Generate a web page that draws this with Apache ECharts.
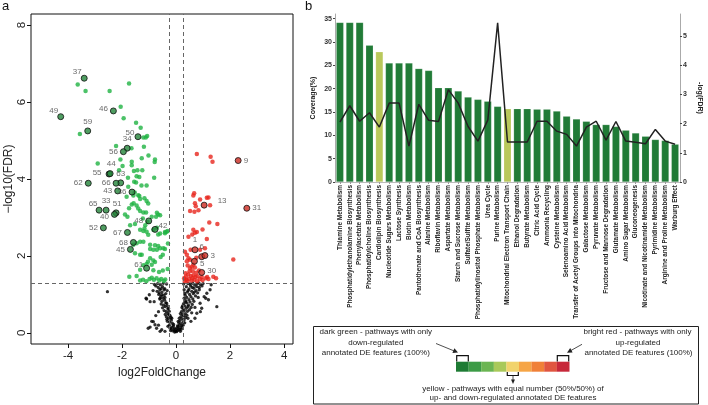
<!DOCTYPE html>
<html><head><meta charset="utf-8">
<script src="https://cdn.jsdelivr.net/npm/echarts@6/dist/echarts.min.js"></script>
<style>html,body{margin:0;padding:0;background:#fff}#c{width:708px;height:405px}</style>
</head><body><div id="c"></div>
<script>
// ---------- Panel a: volcano plot ----------
const volcanoXTicks = [-4, -2, 0, 2, 4];
const volcanoYTicks = [0, 2, 4, 6, 8];
const fcCutoff = 0.263;
const fdrCutoff = 1.301;

const volcanoNS = [
[-0.05,0.02],[-0.12,0.05],[-0.08,0.08],[-0.18,0.1],[-0.02,0.04],[-0.15,0.15],[-0.22,0.12],[-0.1,0.18],[-0.25,0.2],[-0.06,0.12],[-0.3,0.17],[-0.2,0.06],
[-0.14,0.25],[-0.24,0.28],[-0.32,0.3],[-0.18,0.33],[-0.28,0.38],[-0.36,0.42],[-0.22,0.45],[-0.4,0.48],[-0.3,0.5],[-0.19,0.4],[-0.34,0.35],[-0.26,0.47],
[-0.36,0.55],[-0.44,0.58],[-0.3,0.62],[-0.5,0.65],[-0.4,0.68],[-0.28,0.64],[-0.46,0.72],[-0.55,0.75],[-0.38,0.78],[-0.52,0.82],[-0.42,0.85],[-0.6,0.88],[-0.35,0.77],[-0.48,0.9],
[-0.56,0.95],[-0.45,0.98],[-0.64,1.0],[-0.38,1.02],[-0.52,1.06],[-0.7,1.08],[-0.6,1.12],[-0.42,1.15],[-0.66,1.18],[-0.5,1.2],[-0.75,1.22],[-0.58,1.25],[-0.35,1.27],[-0.68,1.28],[-0.47,1.29],[-0.8,1.26],[-0.62,1.04],[-0.33,1.1],
[-1.09,0.88],[-0.96,0.81],[-0.81,0.81],[-0.59,0.9],[-0.65,0.55],[-0.84,0.29],[-0.78,0.21],[-0.96,0.15],[-1.03,0.12],[-0.72,0.12],[-0.53,0.08],[-0.41,0.04],[-0.59,0.04],[-1.11,0.9],[-0.99,0.99],[-0.53,0.99],[-0.44,1.12],[-2.54,1.07],[-0.9,0.3],[-0.65,0.2],[-0.85,1.1],[-0.75,0.45],
[0.02,0.03],[0.06,0.06],[0.1,0.1],[0.04,0.12],[0.14,0.08],[0.08,0.16],[0.18,0.14],[0.12,0.2],[0.22,0.18],[0.0,0.08],[0.16,0.04],[0.2,0.1],[0.26,0.2],[0.05,0.18],
[0.1,0.26],[0.18,0.24],[0.26,0.28],[0.14,0.32],[0.3,0.34],[0.22,0.36],[0.36,0.4],[0.18,0.42],[0.28,0.44],[0.4,0.46],[0.24,0.48],[0.34,0.5],[0.44,0.38],[0.12,0.38],[0.32,0.26],
[0.2,0.55],[0.3,0.58],[0.42,0.56],[0.5,0.6],[0.26,0.62],[0.38,0.64],[0.56,0.66],[0.32,0.7],[0.46,0.72],[0.6,0.74],[0.28,0.76],[0.4,0.78],[0.52,0.8],[0.66,0.82],[0.36,0.84],[0.48,0.86],[0.62,0.88],[0.3,0.9],[0.44,0.68],[0.58,0.52],[0.24,0.7],[0.7,0.66],
[0.4,0.92],[0.55,0.94],[0.72,0.96],[0.34,0.98],[0.5,1.0],[0.64,1.02],[0.8,1.04],[0.42,1.06],[0.58,1.08],[0.74,1.1],[0.3,1.12],[0.48,1.14],[0.66,1.16],[0.86,1.18],[0.38,1.2],[0.54,1.22],[0.7,1.24],[0.9,1.26],[0.28,1.27],[0.44,1.28],[0.62,1.29],[0.78,1.28],[0.32,1.03],[0.6,1.18],[0.96,1.22],[0.82,0.92],
[1.51,0.68],[1.14,1.03],[1.26,1.12],[1.2,0.86],[0.89,0.77],[0.95,0.64],[0.77,0.51],[1.04,0.94],[1.1,0.9],[0.86,1.12],[0.77,1.2],[1.0,1.28],[1.3,1.25],[0.9,0.55],[0.7,0.38],[0.55,0.3],
[-0.09,0.22],[-0.16,0.38],[-0.25,0.56],[-0.33,0.71],[-0.41,0.92],[-0.55,1.15],[0.08,0.3],[0.16,0.5],[0.22,0.66],[0.35,0.8],[0.45,1.1],[0.52,1.27],[0.68,1.06],[0.84,1.3]
];

const volcanoDown = [
[-3.64,6.46],[-3.35,6.29],[-2.46,6.29],[-1.74,6.48],[-2.05,5.88],[-1.94,5.58],[-1.48,5.46],[-1.31,5.33],[-3.56,5.17],[-1.21,5.08],[-1.12,5.08],[-1.07,5.12],
[-2.22,4.86],[-1.19,4.84],[-1.65,4.80],[-2.06,4.51],[-1.02,4.61],[-1.27,4.54],[-0.78,4.51],[-0.79,4.44],[-2.90,4.40],[-1.98,4.34],[-1.64,4.45],[-1.64,4.36],
[-1.43,4.23],[-1.56,4.21],[-1.25,4.23],[-2.11,4.23],[-1.78,4.03],[-1.46,4.07],[-1.36,4.05],[-0.81,4.03],[-1.55,3.93],[-1.48,3.91],[-1.28,3.83],[-1.09,3.83],
[-1.77,3.80],[-1.53,3.65],[-1.36,3.56],[-1.17,3.50],[-1.40,3.58],[-1.33,3.48],[-1.09,3.43],[-1.03,3.36],[-1.83,3.54],[-1.58,3.57],[-1.46,3.31],[-1.40,3.23],
[-1.33,3.17],[-1.21,3.13],[-1.64,3.34],[-1.57,3.37],[-1.74,3.24],[-1.89,3.08],[-1.80,3.02],[-1.11,3.13],[-0.90,3.02],[-0.74,3.02],[-0.66,3.08],[-1.23,2.97],
[-1.06,2.88],[-1.14,2.80],[-1.17,2.71],[-1.70,2.80],[-1.52,2.83],[-0.66,2.56],[-0.59,2.58],[-0.41,2.62],[-0.31,2.65],[-0.84,2.68],[-0.71,2.73],[-1.33,2.68],
[-1.21,2.65],[-1.09,2.63],[-1.03,2.55],[-1.33,2.37],[-1.21,2.37],[-1.46,2.33],[-0.96,2.29],[-0.78,2.28],[-0.66,2.26],[-1.58,2.29],[-1.52,2.07],[-1.33,2.03],
[-1.27,2.03],[-0.96,2.18],[-0.84,2.16],[-0.71,2.16],[-0.59,2.20],[-0.47,2.20],[-0.41,2.18],[-0.49,2.03],[-0.96,1.94],[-0.84,1.88],[-0.78,1.84],[-1.09,1.79],
[-1.21,1.76],[-0.90,1.77],[-0.84,1.63],[-0.63,1.58],[-0.49,1.62],[-0.31,1.66],[-1.73,1.46],[-1.46,1.48],[-1.33,1.36],[-1.22,1.38],[-1.10,1.34],[-0.98,1.40],
[-0.90,1.43],[-0.82,1.38],[-0.72,1.42],[-0.62,1.36],[-0.55,1.40],[-0.45,1.35],[-0.40,1.39],[-1.33,1.64],[-1.04,1.85],[-0.57,1.97],[-0.30,2.32],[-0.41,2.59],
[-0.35,2.63],[-0.59,3.06],[-0.71,3.12]
];

const volcanoUp = [
[0.77,4.65],[1.28,4.58],[1.35,4.45],[0.67,3.63],[0.64,3.57],[0.89,3.47],[1.14,3.51],[0.70,3.37],[0.73,3.29],[0.83,3.19],[0.68,3.15],[0.52,3.17],
[1.26,3.32],[1.20,3.52],[1.23,2.87],[1.53,2.83],[0.64,2.68],[0.70,2.60],[0.77,2.62],[0.60,2.56],[0.98,2.69],[0.46,2.50],[1.14,2.44],[0.54,2.16],
[0.89,2.16],[1.07,2.20],[0.33,2.11],[0.40,2.03],[0.46,1.94],[0.52,1.90],[0.40,1.86],[0.64,1.77],[0.58,1.72],[0.52,1.68],[0.70,1.70],[2.12,1.91],
[0.35,1.55],[0.45,1.52],[0.55,1.48],[0.65,1.50],[0.75,1.56],[0.95,1.45],[1.10,1.42],[1.20,1.40],[1.15,1.45],[0.30,1.42],[0.38,1.38],[0.48,1.40],
[0.58,1.36],[0.68,1.38],[0.78,1.34],[0.88,1.40],[0.98,1.37],[0.42,1.34],[0.32,1.35],[1.38,1.46],[1.48,1.42],[0.62,1.60],[0.85,1.62],[0.43,1.75],
[0.75,1.95],[0.36,1.46],[0.80,1.47],[0.50,1.60],[0.60,1.42],[0.72,1.45]
];

const labeledDown = [
['37',-3.40,6.62],['49',-4.27,5.62],['46',-2.32,5.77],['59',-3.27,5.25],['50',-1.41,5.10],['34',-1.81,4.80],['56',-1.95,4.71],
['55',-2.48,4.13],['44',-2.44,4.14],['63',-2.05,3.90],['66',-2.22,3.89],['62',-3.25,3.89],['43',-2.16,3.69],['36',-1.63,3.66],
['65',-2.85,3.19],['33',-2.59,3.19],['51',-2.22,3.12],['40',-2.28,3.08],['48',-1.01,2.91],['42',-0.78,2.69],['52',-2.69,2.73],
['67',-1.80,2.61],['68',-1.58,2.35],['45',-1.69,2.17],['61',-1.09,1.68]
];
const labeledUp = [
['9',2.30,4.48],['13',1.04,3.32],['31',2.62,3.24],['1',0.70,2.16],['6',0.95,1.98],['3',1.07,2.01],['5',0.68,1.86],['30',0.95,1.57]
];

// ---------- Panel b: pathway enrichment ----------
const pathways = [
'Thiamine Metabolism','Phosphatidylethanolamine Biosynthesis','Phenylacetate Metabolism','Phosphatidylcholine Biosynthesis',
'Cardiolipin Biosynthesis','Nucleotide Sugars Metabolism','Lactose Synthesis','Biotin Metabolism','Pantothenate and CoA Biosynthesis',
'Alanine Metabolism','Riboflavin Metabolism','Aspartate Metabolism','Starch and Sucrose Metabolism','Sulfate/Sulfite Metabolism',
'Phosphatidylinositol Phosphate Metabolism','Urea Cycle','Purine Metabolism','Mitochondrial Electron Transport Chain',
'Ethanol Degradation','Butyrate Metabolism','Citric Acid Cycle','Ammonia Recycling','Cysteine Metabolism','Selenoamino Acid Metabolism',
'Transfer of Acetyl Groups into Mitochondria','Galactose Metabolism','Pyruvate Metabolism','Fructose and Mannose Degradation',
'Glutamate Metabolism','Amino Sugar Metabolism','Gluconeogenesis','Nicotinate and Nicotinamide Metabolism','Pyrimidine Metabolism',
'Arginine and Proline Metabolism','Warburg Effect'
];
const coverage = [34.2,34.2,34.2,29.3,27.9,25.5,25.5,25.5,24.3,23.9,20.2,20.2,19.5,18.2,17.7,17.3,16.2,15.7,
15.7,15.7,15.6,15.6,15.2,14.1,13.5,13.0,12.3,12.3,11.9,11.1,10.5,9.8,9.1,8.9,8.1];
const negLogFDR = [2.05,2.61,2.08,2.37,1.88,2.70,2.70,1.23,2.66,2.11,2.07,3.16,2.70,1.90,1.40,2.12,5.45,1.37,
1.37,1.37,2.08,2.08,1.74,1.63,1.23,1.88,2.08,1.43,2.07,1.40,1.36,1.31,1.80,1.40,1.29];
const regulation = ['down','down','down','down','equal','down','down','down','down','down','down','down','down','down','down','down','down','equal',
'down','down','down','down','down','down','down','down','down','down','down','down','down','down','down','down','down'];
const coverageTicks = [0,5,10,15,20,25,30,35];
const fdrTicks = [0,1,2,3,4,5];

// ---------- styles ----------
const FONT = 'Liberation Sans, Arial, sans-serif';
const regColor = {down:'#217b37', equal:'#b9c85b'};
const legendColors = ['#1e7b34','#3c9b46','#6bb552','#a9c95a','#f1d36c','#f6a546','#f08038','#e05540','#c7283a'];
const labelPlacement = {
 '37':['left',3,-6],'49':['left',3,-6],'46':['left',0,-2],'59':['top',0,0],'50':['left',2,-4],'34':['top',0,0],
 '56':['left',0,0],'55':['left',-2,-1],'44':['top',1,0],'63':['top',0,0],'66':['left',0,0],'62':['left',0,0],
 '43':['left',0,0],'36':['left',0,0],'65':['left',4,-6],'33':['top',0,0],'51':['top',1,0],'40':['left',0,2],
 '48':['left',0,0],'42':['right',-2,-4],'52':['left',0,0],'67':['left',0,0],'68':['left',0,0],'45':['left',0,0],'61':['left',2,-3],
 '9':['right',0,0],'13':['right',8,-4],'31':['right',0,0],'1':['top',0,0],'6':['top',0,0],'3':['right',0,0],'5':['right',0,2],'30':['right',0,-2]
};
function labeledItems(arr){
  return arr.map(([n,x,y])=>{
    const p = labelPlacement[n] || ['left',0,0];
    return {name:n, value:[x,y], label:{position:p[0], offset:[p[1],p[2]], distance:2}};
  });
}

const chart = echarts.init(document.getElementById('c'), null, {renderer:'canvas'});

const graphic = [
  {type:'text', left:2, top:0, style:{text:'a', font:'13px '+FONT, fill:'#111'}},
  {type:'text', left:305, top:0, style:{text:'b', font:'13px '+FONT, fill:'#111'}},
  {type:'rect', shape:{x:313.5, y:326.5, width:385, height:77.5}, style:{fill:'#fff', stroke:'#222', lineWidth:1}, z:10},
];
legendColors.forEach((c,i)=>{
  graphic.push({type:'rect', shape:{x:456+i*12.6, y:361.7, width:12.7, height:10}, style:{fill:c}, z:11});
});
const txt = (t,x,y,align)=>({type:'text', x:x, y:y, z:12, style:{text:t, font:'8px '+FONT, fill:'#222', align:align||'center', verticalAlign:'middle'}});
graphic.push(
  txt('dark green - pathways with only',375.8,331.5), txt('down-regulated',375.8,342.3), txt('annotated DE features (100%)',375.8,353),
  txt('bright red - pathways with only',637.5,331.5), txt('up-regulated',638,342.3), txt('annotated DE features (100%)',638.5,353),
  txt('yellow - pathways with equal number (50%/50%) of',513,388.5), txt('up- and down-regulated annotated DE features',513,397.5),
  {type:'polyline', z:12, shape:{points:[[456.7,361.5],[456.7,355.7],[468.3,355.7],[468.3,361.5]]}, style:{stroke:'#111', lineWidth:1.2, fill:null}},
  {type:'polyline', z:12, shape:{points:[[557.3,361.5],[557.3,355.7],[568.7,355.7],[568.7,361.5]]}, style:{stroke:'#111', lineWidth:1.2, fill:null}},
  {type:'polyline', z:12, shape:{points:[[507.3,372],[507.3,375.5],[518.3,375.5],[518.3,372]]}, style:{stroke:'#111', lineWidth:1.2, fill:null}},
  {type:'line', z:12, shape:{x1:436,y1:343.5,x2:455,y2:351.3}, style:{stroke:'#222', lineWidth:0.8}},
  {type:'polygon', z:12, shape:{points:[[458,352.5],[452.4,352.9],[454.4,348.3]]}, style:{fill:'#222'}},
  {type:'line', z:12, shape:{x1:582,y1:344.3,x2:569.5,y2:351.3}, style:{stroke:'#222', lineWidth:0.8}},
  {type:'polygon', z:12, shape:{points:[[567,352.7],[570.2,348.1],[572.6,352.5]]}, style:{fill:'#222'}},
  {type:'line', z:12, shape:{x1:513,y1:375.5,x2:513,y2:380}, style:{stroke:'#222', lineWidth:0.8}},
  {type:'polygon', z:12, shape:{points:[[513,384],[511,379.5],[515,379.5]]}, style:{fill:'#222'}}
);

const dash = {type:[4,3], color:'#666', width:1};

chart.setOption({
  animation:false,
  backgroundColor:'#fff',
  textStyle:{fontFamily:FONT},
  graphic: graphic,
  grid:[
    {left:31, top:14, width:262, height:330, show:true, borderColor:'#111', borderWidth:1, backgroundColor:'transparent'},
    {left:335, top:14, width:345, height:168}
  ],
  xAxis:[
    {type:'value', gridIndex:0, min:-5.37, max:4.33,
     axisLine:{show:false, onZero:false}, splitLine:{show:false},
     axisTick:{show:true, length:4, customValues:volcanoXTicks, lineStyle:{color:'#111'}},
     axisLabel:{customValues:volcanoXTicks, fontSize:11.5, color:'#222', margin:6, fontFamily:FONT},
     name:'log2FoldChange', nameLocation:'middle', nameGap:21, nameTextStyle:{fontSize:12, color:'#222', fontFamily:FONT}},
    {type:'category', gridIndex:1, data:pathways,
     axisLine:{show:true, lineStyle:{color:'#bbb', width:1}},
     axisTick:{show:true, alignWithLabel:true, length:2, lineStyle:{color:'#999'}},
     axisLabel:{interval:0, rotate:90, fontSize:6.4, fontWeight:'bold', color:'#222', margin:3, fontFamily:FONT}}
  ],
  yAxis:[
    {type:'value', gridIndex:0, min:-0.29, max:8.29,
     axisLine:{show:false, onZero:false}, splitLine:{show:false},
     axisTick:{show:true, length:4, customValues:volcanoYTicks, lineStyle:{color:'#111'}},
     axisLabel:{customValues:volcanoYTicks, rotate:90, fontSize:11.5, color:'#222', margin:3, fontFamily:FONT},
     name:'\u2212log10(FDR)', nameLocation:'middle', nameRotate:90, nameGap:16, nameTextStyle:{fontSize:12, color:'#222', fontFamily:FONT}},
    {type:'value', gridIndex:1, min:0, max:36,
     axisLine:{show:true, onZero:false, lineStyle:{color:'#aaa'}}, splitLine:{show:false},
     axisTick:{show:true, length:2, customValues:coverageTicks, lineStyle:{color:'#444'}},
     axisLabel:{customValues:coverageTicks, fontSize:7, fontWeight:'bold', color:'#333', margin:3, fontFamily:FONT},
     name:'Coverage(%)', nameLocation:'middle', nameRotate:90, nameGap:18, nameTextStyle:{fontSize:7, fontWeight:'bold', color:'#222'}},
    {type:'value', gridIndex:1, position:'right', min:0, max:5.75,
     axisLine:{show:true, onZero:false, lineStyle:{color:'#aaa'}}, splitLine:{show:false},
     axisTick:{show:true, length:2, customValues:fdrTicks, lineStyle:{color:'#444'}},
     axisLabel:{customValues:fdrTicks, fontSize:7, fontWeight:'bold', color:'#333', margin:3, fontFamily:FONT},
     name:'-log(FDR)', nameLocation:'middle', nameRotate:-90, nameGap:16, nameTextStyle:{fontSize:7, fontWeight:'bold', color:'#222'}}
  ],
  series:[
    {type:'scatter', xAxisIndex:0, yAxisIndex:0, data:volcanoNS, symbolSize:3.3, itemStyle:{color:'#000'}, z:2,
     markLine:{silent:true, symbol:'none', label:{show:false}, lineStyle:dash,
       data:[{xAxis:-fcCutoff},{xAxis:fcCutoff},{yAxis:fdrCutoff}]}},
    {type:'scatter', xAxisIndex:0, yAxisIndex:0, data:volcanoDown, symbolSize:4.5, itemStyle:{color:'#1fb342'}, z:3},
    {type:'scatter', xAxisIndex:0, yAxisIndex:0, data:volcanoUp, symbolSize:4.5, itemStyle:{color:'#e7261d'}, z:3},
    {type:'scatter', xAxisIndex:0, yAxisIndex:0, data:labeledItems(labeledDown), symbolSize:6,
     itemStyle:{color:'#23853a', borderColor:'#111', borderWidth:1}, z:4,
     label:{show:true, formatter:p=>p.name, fontSize:8, color:'#444', fontFamily:FONT}},
    {type:'scatter', xAxisIndex:0, yAxisIndex:0, data:labeledItems(labeledUp), symbolSize:6,
     itemStyle:{color:'#cc2a20', borderColor:'#111', borderWidth:1}, z:4,
     label:{show:true, formatter:p=>p.name, fontSize:8, color:'#444', fontFamily:FONT}},
    {type:'bar', xAxisIndex:1, yAxisIndex:1, barCategoryGap:'24%',
     data:coverage.map((v,i)=>({value:v, itemStyle:{color:regColor[regulation[i]]}})),
     itemStyle:{borderColor:'rgba(255,255,255,0.35)', borderWidth:0.5}},
    {type:'line', xAxisIndex:1, yAxisIndex:2, data:negLogFDR, symbol:'none', z:5,
     lineStyle:{color:'#222', width:1.5}}
  ]
});
</script></body></html>
